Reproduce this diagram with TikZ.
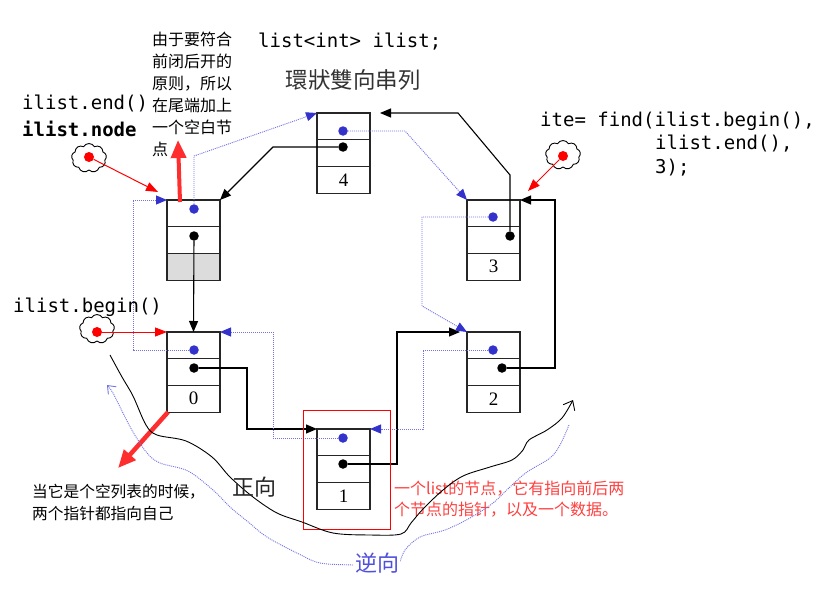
\documentclass[tikz,border=0pt]{standalone}
\usepackage{fontspec}
\setmainfont{Liberation Serif}
\setmonofont{DejaVu Sans Mono}
\newfontfamily\cjk{Noto Sans CJK SC}
\newfontfamily\cjktc{Noto Sans CJK TC}
\usetikzlibrary{arrows.meta,shapes.symbols,calc}
\definecolor{dotblue}{HTML}{3333CC}
\definecolor{lineblue}{HTML}{7373E6}
\definecolor{redA}{HTML}{FF2E2E}
\definecolor{redT}{HTML}{FF4040}
\definecolor{cellgray}{HTML}{DCDCDC}
\definecolor{revblue}{HTML}{5050DD}
\newcommand\listnode[5]{%
  \node[cell,anchor=north west] (#1p) at (#2,#3) {};
  \node[cell,anchor=north] (#1n) at (#1p.south) {};
  \node[cell,anchor=north,fill=#5,font=\fontsize{19}{19}\selectfont] (#1d) at (#1n.south) {#4};
}
\tikzset{
  cell/.style={draw=black!85,line width=1.2pt,minimum width=53pt,minimum height=26.7pt,inner sep=0pt,outer sep=0pt},
  bdot/.style={circle,fill=dotblue,inner sep=0pt,minimum size=9.5pt},
  kdot/.style={circle,fill=black,inner sep=0pt,minimum size=9.5pt},
  rdot/.style={circle,fill=red,inner sep=0pt,minimum size=10pt},
  nx/.style={line width=1.1pt,-{Triangle[length=11pt,width=9pt]}},
  pv/.style={draw=lineblue,line width=0.9pt,dash pattern=on 1pt off 1pt,-{Triangle[length=11pt,width=9pt,color=dotblue]}},
  redarr/.style={draw=red,line width=1pt,-{Triangle[length=12pt,width=9pt]}},
  bigred/.style={draw=redA,-{Triangle[length=18pt,width=15pt]}},
  mono/.style={font=\ttfamily\fontsize{19}{23}\selectfont,inner sep=0pt},
  cld/.style={cloud,cloud puffs=9,cloud puff arc=120,draw,line width=0.9pt,fill=white,minimum width=35pt,minimum height=29pt,inner sep=0pt},
}
\begin{document}
\begin{tikzpicture}[x=1pt,y=-1pt]
\useasboundingbox (0,0) rectangle (837,599);
% list nodes
\listnode{E}{167}{200}{}{cellgray}
\listnode{F}{317}{113}{4}{white}
\listnode{T}{467}{200}{3}{white}
\listnode{Z}{167}{332}{0}{white}
\listnode{W}{467}{332}{2}{white}
\listnode{O}{317}{429}{1}{white}
% dots
\node[bdot] (Eb) at (194,209) {};
\node[kdot] (Ek) at (194,236) {};
\node[bdot] (Fb) at (343,131) {};
\node[kdot] (Fk) at (343,147) {};
\node[bdot] (Tb) at (493,217) {};
\node[kdot] (Tk) at (510,236) {};
\node[bdot] (Zb) at (194,350) {};
\node[kdot] (Zk) at (194,368) {};
\node[bdot] (Wb) at (493,350) {};
\node[kdot] (Wk) at (502,368) {};
\node[bdot] (Ob) at (343,438) {};
\node[kdot] (Ok) at (343,464) {};
% next pointers (black)
\draw[nx] (Ek) -- (Zp.north);
\draw[nx] (Zk) -| (247,429) -- (Op.north west);
\draw[nx,shorten >=7pt] (Ok) -| (397,332) -- (Wp.north west);
\draw[nx] (Wk) -| (555,200) -- (Tp.north east);
\draw[nx] (Tk) -- (510,175) -- (458,113) -- ($(Fp.north east)+(10,0)$);
\draw[nx] (Fk) -- (273,147) -- (Ep.north east);
% prev pointers (blue dotted)
\draw[pv] (Eb) -- (194,156) -- (Fp.north west);
\draw[pv] (Fb) -- (405,131) -- (Tp.north west);
\draw[pv] (Tb) -| (422,306) -- (Wp.north west);
\draw[pv] (Wb) -| (423,429) -- (Op.north east);
\draw[pv] (Ob) -| (273,332) -- (Zp.north east);
\draw[pv] (Zb) -| (133,200) -- (Ep.north west);
% red box around node 1
\draw[red,line width=0.9pt] (303,410) rectangle (390,529);
% texts
\node[mono,anchor=base west] (tlist) at (258,48) {list<int> ilist;};
\node[font=\cjktc\fontsize{22.5}{22.5}\selectfont,text=black!80,inner sep=0pt] (title) at (353,80) {環狀雙向串列};
\node[mono,anchor=base west] (tend) at (22,110) {ilist.end()};
\node[mono,anchor=base west,font=\ttfamily\bfseries\fontsize{19}{23}\selectfont] (tnode) at (22,136) {ilist.node};
\node[anchor=north west,align=left,inner sep=0pt,font=\cjk\fontsize{16}{22}\selectfont] (note) at (152,32) {由于要符合\\前闭后开的\\原则，所以\\在尾端加上\\一个空白节\\点};
\node[mono,anchor=base west] (find1) at (540,126) {ite= find(ilist.begin(),};
\node[mono,anchor=base west] (find2) at (655,149) {ilist.end(),};
\node[mono,anchor=base west] (find3) at (655,173) {3);};
\node[mono,anchor=base west] (tbegin) at (13,312) {ilist.begin()};
\node[anchor=north west,align=left,inner sep=0pt,font=\cjk\fontsize{15.7}{22}\selectfont] (empty) at (32,484) {当它是个空列表的时候，\\两个指针都指向自己};
\node[anchor=north west,align=left,inner sep=0pt,text=redT,font=\cjk\fontsize{16}{21}\selectfont] (rnote) at (394,481) {一个list的节点，它有指向前后两\\个节点的指针，以及一个数据。};
% clouds and red pointers
\node[cld] (c1) at (89,158) {};
\node[rdot] (r1) at (89,157) {};
\node[cld] (c2) at (97,329) {};
\node[rdot] (r2) at (97,332) {};
\node[cld] (c3) at (563,155) {};
\node[rdot] (r3) at (563,156) {};
\draw[redarr] (r1) -- ($(Ep.north west)+(-9,-8)$);
\draw[redarr] (r2) -- (Zp.north west);
\draw[redarr] (r3) -- ($(Tp.north east)+(8,-9)$);
% big red arrows
\draw[bigred,line width=4pt] ($(Ep.north west)+(13,2)$) -- ($(Ep.north west)+(11,-60)$);
\draw[bigred,line width=4.5pt] ($(Zd.south west)+(1,0)$) -- ($(Zd.south west)+(-49,56)$);
% forward / reverse curves
\draw[line width=0.9pt,-{Straight Barb[length=8pt,width=13pt]}] plot[smooth,tension=0.55] coordinates {(110,355) (122,377) (133,396) (146,425) (157,435) (186,441) (212,457) (230,477) (253,497) (277,513) (302,522) (333,533) (370,535) (401,534) (411,523) (423,509) (443,490) (463,476) (490,467) (512,460) (523,450) (529,440) (547,430) (562,418) (573,400)};
\draw[lineblue,line width=0.9pt,dash pattern=on 1pt off 1pt,-{Straight Barb[length=7pt,width=11pt,color=lineblue]}] plot[smooth,tension=0.55] coordinates {(569,425) (560,445) (550,458) (527,472) (512,485) (493,503) (470,518) (445,530) (420,537) (405,550) (397,565) (377,566) (353,565) (320,563) (297,553) (267,537) (247,521) (230,507) (213,490) (188,471) (160,463) (147,453) (133,432) (123,413) (113,393) (107,385)};
\node[font=\cjk\fontsize{22}{22}\selectfont,text=black!85,inner sep=0pt] (fwd) at (254,487) {正向};
\node[font=\cjk\fontsize{22}{22}\selectfont,text=revblue,fill=white,inner sep=1pt] (rev) at (377,563) {逆向};
\end{tikzpicture}
\end{document}
